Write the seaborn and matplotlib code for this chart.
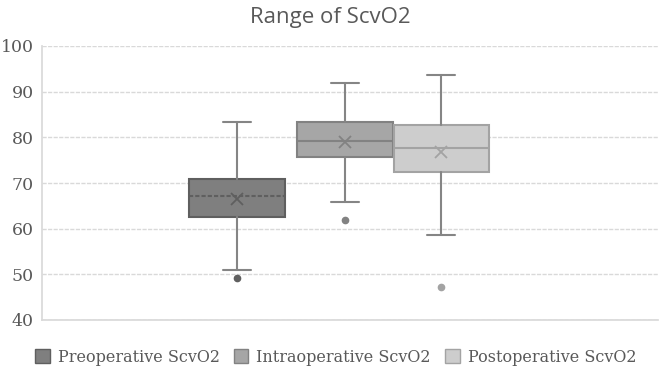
import matplotlib
matplotlib.use("Agg")
import matplotlib.pyplot as plt
import seaborn as sns
from matplotlib.patches import Patch

categories = ["Preoperative ScvO2", "Intraoperative ScvO2", "Postoperative ScvO2"]
whis_low = [50.9, 65.9, 58.7]
q1 = [62.5, 75.8, 72.5]
median = [67.2, 79.1, 77.7]
q3 = [70.9, 83.4, 82.8]
whis_high = [83.4, 91.8, 93.6]
mean = [66.6, 79.0, 76.8]
outliers = [[49.3], [61.9], [47.2]]
yticks = [40, 50, 60, 70, 80, 90, 100]

fills = ["#7f7f7f", "#a6a6a6", "#cdcdcd"]
edges = ["#5f5f5f", "#828282", "#a3a3a3"]
positions = [0.3166, 0.492, 0.648]
widths = [0.156, 0.156, 0.154]

sns.set_theme(style="white")
plt.rcParams['font.family'] = ['DejaVu Serif']

fig = plt.figure(figsize=(6.61, 3.73), dpi=100)
ax = fig.add_axes([42/661, 1-320/373, 616/661, 274/373])

stats = []
for i, c in enumerate(categories):
    stats.append(dict(label=c, whislo=whis_low[i], q1=q1[i], med=median[i],
                      q3=q3[i], whishi=whis_high[i], mean=mean[i], fliers=outliers[i]))

for i, s in enumerate(stats):
    ax.bxp([s], positions=[positions[i]], widths=[widths[i]], capwidths=[0.046],
           showmeans=True, patch_artist=True, manage_ticks=False,
           boxprops=dict(facecolor=fills[i], edgecolor=edges[i], linewidth=1.5),
           whiskerprops=dict(color="#858585", linewidth=1.5),
           capprops=dict(color="#858585", linewidth=1.5),
           medianprops=dict(color=edges[i], linewidth=1.5,
                            linestyle=(0, (2, 1)) if i == 0 else "-"),
           meanprops=dict(marker="x", markeredgecolor=edges[i], markersize=9, markeredgewidth=1.3),
           flierprops=dict(marker="o", markerfacecolor=edges[i], markeredgecolor=edges[i], markersize=4.5))

ax.set_xlim(0, 1)
ax.set_ylim(40, 100)
ax.set_yticks(yticks)
ax.set_xticks([])
ax.yaxis.grid(True, color="#d9d9d9", linestyle=(0, (3, 1)), linewidth=1)
ax.set_axisbelow(True)
for sp in ["top", "right"]:
    ax.spines[sp].set_visible(False)
ax.spines["left"].set_color("#d9d9d9")
ax.spines["left"].set_linestyle((0, (3, 1)))
ax.spines["bottom"].set_color("#d9d9d9")
ax.spines["bottom"].set_linestyle((0, (3, 1)))
ax.tick_params(axis="y", length=0, pad=6, labelsize=12.5, labelcolor="#595959")

fig.text(0.5, 1-17/373, "Range of ScvO2", ha="center", va="center",
         fontsize=16, color="#595959", family=["Open Sans", "DejaVu Sans"])

handles = [Patch(facecolor=fills[i], edgecolor=edges[i], label=categories[i]) for i in range(3)]
fig.legend(handles=handles, loc="center", bbox_to_anchor=(0.508, 1-357/373), ncol=3,
           frameon=False, fontsize=11.5, labelcolor="#595959", handlelength=0.9,
           handleheight=0.9, handletextpad=0.5, columnspacing=0.9)

fig.savefig("out.png", dpi=100)
